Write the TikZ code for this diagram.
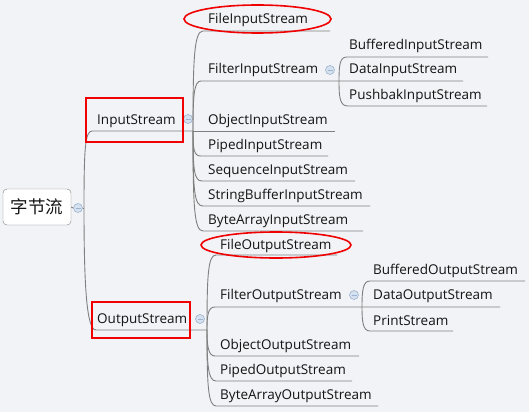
\documentclass[tikz,border=0pt]{standalone}
\usepackage{fontspec}
\setmainfont{Open Sans}
\newfontfamily\cjkfont{Noto Sans CJK SC}
\usetikzlibrary{shapes.geometric}
\definecolor{bg}{HTML}{F2F3F7}
\definecolor{linegray}{HTML}{7F7F7F}
\definecolor{txt}{HTML}{141414}
\definecolor{foldfill}{HTML}{D5E1EF}
\definecolor{foldedge}{HTML}{9DB3CF}
\definecolor{hired}{HTML}{F00000}
\begin{document}
\begin{tikzpicture}[x=1pt,y=-1pt,
  lbl/.style={anchor=base west, inner sep=0pt, font=\fontsize{13.5}{15}\selectfont, text=txt, yshift=-5pt},
  rootbox/.style={draw=linegray, fill=white, rounded corners=4pt, minimum width=68pt, minimum height=36pt, inner sep=0pt, font=\cjkfont\fontsize{17.5}{19}\selectfont, text=txt},
  branch/.style={draw=linegray, line width=0.9pt},
  fold/.style={circle, draw=foldedge, fill=foldfill, minimum size=9pt, inner sep=0pt, line width=0.6pt,
    path picture={\draw[foldedge, line width=0.7pt] ([xshift=-2.5pt]path picture bounding box.center) -- ([xshift=2.5pt]path picture bounding box.center);}},
  hibox/.style={draw=hired, line width=1.6pt},
]
\useasboundingbox[fill=bg] (0,0) rectangle (529,412);

% root
\node[rootbox] (root) at (37,207) {字节流};
\node[fold] (f0) at (78,208) {};
\coordinate (P0) at (84,208);

% level 1
\node[lbl] (is) at (97,119) {InputStream};
\node[lbl] (os) at (97,318) {OutputStream};
\node[fold] (f1) at (188,119) {};
\node[fold] (f3) at (200,319) {};
\coordinate (isL) at (92,131);
\coordinate (P1) at (193,131);
\coordinate (osL) at (96,330);
\coordinate (P2) at (207,330);

% InputStream children
\node[lbl] (fis) at (208,19) {FileInputStream};
\node[lbl] (filt) at (208,69) {FilterInputStream};
\node[lbl] (ois) at (208,119) {ObjectInputStream};
\node[lbl] (pis) at (208,144) {PipedInputStream};
\node[lbl] (sis) at (208,169) {SequenceInputStream};
\node[lbl] (sbis) at (208,194) {StringBufferInputStream};
\node[lbl] (bais) at (208,219) {ByteArrayInputStream};
\node[fold] (f2) at (330,70) {};
\coordinate (P3) at (339,81);

% FilterInputStream children
\node[lbl] (bis) at (349,44) {BufferedInputStream};
\node[lbl] (dis) at (349,69) {DataInputStream};
\node[lbl] (pbis) at (349,94) {PushbakInputStream};

% OutputStream children
\node[lbl] (fos) at (220,244) {FileOutputStream};
\node[lbl] (filto) at (220,294) {FilterOutputStream};
\node[lbl] (oos) at (220,344) {ObjectOutputStream};
\node[lbl] (pos) at (220,369) {PipedOutputStream};
\node[lbl] (baos) at (220,394) {ByteArrayOutputStream};
\node[fold] (f4) at (354,295) {};
\coordinate (P4) at (362,307);

% FilterOutputStream children
\node[lbl] (bos) at (373,269) {BufferedOutputStream};
\node[lbl] (dos) at (373,294) {DataOutputStream};
\node[lbl] (ps) at (373,320) {PrintStream};

% underline end points
\coordinate (fisL) at (203,31);  \coordinate (fisR) at (330,31);
\coordinate (filtL) at (201,81); \coordinate (disR) at (463,81);
\coordinate (oisR) at (335,131);
\coordinate (pisL) at (201,156); \coordinate (pisR) at (328,156);
\coordinate (sisL) at (202,181); \coordinate (sisR) at (355,181);
\coordinate (sbisL) at (203,206); \coordinate (sbisR) at (370,206);
\coordinate (baisL) at (203,231); \coordinate (baisR) at (363,231);
\coordinate (bisL) at (347,57);  \coordinate (bisR) at (488,57);
\coordinate (pbisL) at (348,106); \coordinate (pbisR) at (487,106);
\coordinate (fosL) at (216,255); \coordinate (fosR) at (337,255);
\coordinate (filtoL) at (215,307); \coordinate (dosR) at (500,307);
\coordinate (oosL) at (215,356); \coordinate (oosR) at (359,356);
\coordinate (posL) at (216,381); \coordinate (posR) at (352,381);
\coordinate (baosL) at (216,406); \coordinate (baosR) at (378,406);
\coordinate (bosL) at (370,281); \coordinate (bosR) at (525,281);
\coordinate (psL) at (370,331); \coordinate (psR) at (453,331);

% root connectors
\draw[branch] (root.east) -- (f0.west);
\draw[branch] (f0.east) -- (P0);
\draw[branch] (P0) .. controls (84,150) and (85,131) .. (isL) -- (P1);
\draw[branch] (P0) .. controls (84,290) and (87,330) .. (osL) -- (P2);

% InputStream connectors
\draw[branch] (P1) .. controls (193,60) and (194,31) .. (fisL) -- (fisR);
\draw[branch] (P1) .. controls (193,95) and (194,81) .. (filtL) -- (P3) -- (disR);
\draw[branch] (P1) -- (oisR);
\draw[branch] (P1) .. controls (193,150) and (194,156) .. (pisL) -- (pisR);
\draw[branch] (P1) .. controls (193,170) and (194,181) .. (sisL) -- (sisR);
\draw[branch] (P1) .. controls (193,190) and (194,206) .. (sbisL) -- (sbisR);
\draw[branch] (P1) .. controls (193,205) and (194,231) .. (baisL) -- (baisR);
\draw[branch] (P3) .. controls (339,64) and (340,57) .. (bisL) -- (bisR);
\draw[branch] (P3) .. controls (339,98) and (340,106) .. (pbisL) -- (pbisR);

% OutputStream connectors
\draw[branch] (P2) .. controls (207,275) and (208,255) .. (fosL) -- (fosR);
\draw[branch] (P2) .. controls (207,315) and (208,307) .. (filtoL) -- (P4) -- (dosR);
\draw[branch] (P2) .. controls (207,345) and (208,356) .. (oosL) -- (oosR);
\draw[branch] (P2) .. controls (207,365) and (208,381) .. (posL) -- (posR);
\draw[branch] (P2) .. controls (207,385) and (208,406) .. (baosL) -- (baosR);
\draw[branch] (P4) .. controls (362,290) and (363,281) .. (bosL) -- (bosR);
\draw[branch] (P4) .. controls (362,322) and (363,331) .. (psL) -- (psR);

% red highlights
\draw[hibox] (86,98) rectangle (183,142);
\draw[hibox] (92,302) rectangle (190,338);
\draw[hibox] (257.5,19) ellipse [x radius=73.5, y radius=14];
\draw[hibox] (276,245) ellipse [x radius=75, y radius=13];
\end{tikzpicture}
\end{document}
